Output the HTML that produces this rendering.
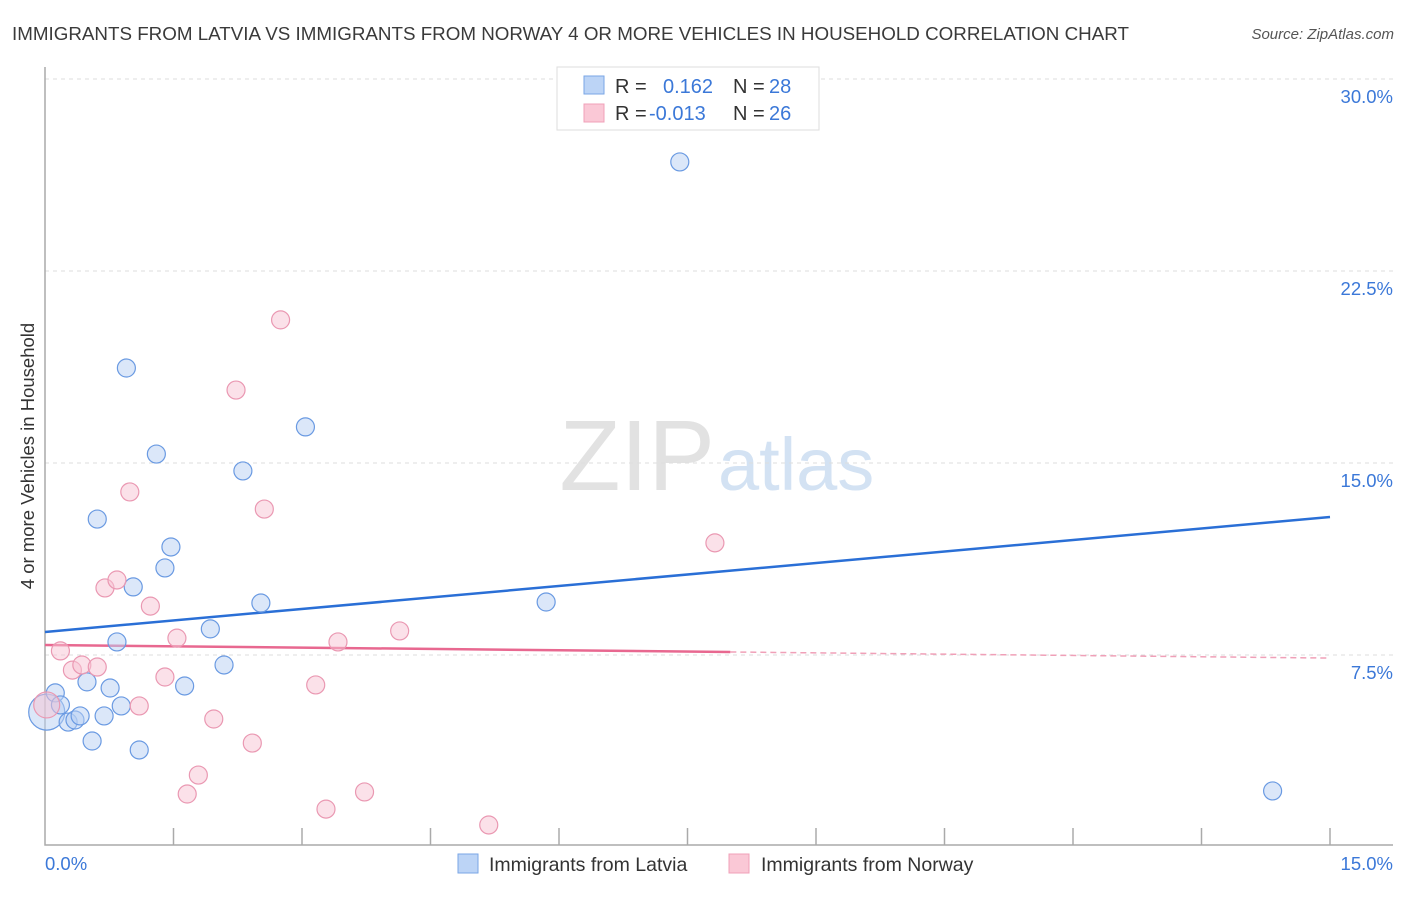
<!DOCTYPE html>
<html><head><meta charset="utf-8"><style>
body{margin:0;background:#fff;font-family:"Liberation Sans",sans-serif}
svg text{font-family:"Liberation Sans",sans-serif}
</style></head><body>
<svg width="1406" height="892" xmlns="http://www.w3.org/2000/svg" id="chart">
<text x="12" y="40" font-size="18.8" fill="#3a3a3a">IMMIGRANTS FROM LATVIA VS IMMIGRANTS FROM NORWAY 4 OR MORE VEHICLES IN HOUSEHOLD CORRELATION CHART</text>
<text x="1394" y="39" font-size="15" fill="#555" text-anchor="end" font-style="italic">Source: ZipAtlas.com</text>
<text x="715" y="490" font-size="100" fill="#e2e2e2" text-anchor="end" font-family="Liberation Serif">ZIP</text>
<text x="718" y="490" font-size="74" fill="#d3e2f3">atlas</text>
<g id="grid"></g>
<g id="axes"></g>
<g id="lines"></g>
<g id="pts"></g>
<text transform="translate(34,456) rotate(-90)" font-size="18.5" fill="#333" text-anchor="middle">4 or more Vehicles in Household</text>
<text x="45" y="870" font-size="18.5" fill="#3b78d8">0.0%</text>
<text x="1393" y="870" font-size="18.5" fill="#3b78d8" text-anchor="end">15.0%</text>
<g>
<rect x="557" y="67" width="262" height="63" fill="#fff" stroke="#ddd"/>
<rect x="584" y="76" width="20" height="18" fill="#bcd4f6" stroke="#7aa6e6"/>
<rect x="584" y="104" width="20" height="18" fill="#fac8d6" stroke="#f0a0b8"/>
<text x="615" y="93" font-size="20" fill="#333">R = </text><text x="663" y="93" font-size="20" fill="#3b78d8">0.162</text>
<text x="733" y="93" font-size="20" fill="#333">N = </text><text x="769" y="93" font-size="20" fill="#3b78d8">28</text>
<text x="615" y="120" font-size="20" fill="#333">R = </text><text x="649" y="120" font-size="20" fill="#3b78d8">-0.013</text>
<text x="733" y="120" font-size="20" fill="#333">N = </text><text x="769" y="120" font-size="20" fill="#3b78d8">26</text>
</g>
<g>
<rect x="458" y="854" width="20" height="19" fill="#bcd4f6" stroke="#7aa6e6"/>
<text x="489" y="871" font-size="19.5" fill="#333">Immigrants from Latvia</text>
<rect x="729" y="854" width="20" height="19" fill="#fac8d6" stroke="#f0a0b8"/>
<text x="761" y="871" font-size="19.5" fill="#333">Immigrants from Norway</text>
</g>
</svg>
<script>
const latviaX=[0.02,0.12,0.18,0.27,0.35,0.41,0.49,0.55,0.61,0.69,0.76,0.84,0.89,0.95,1.03,1.10,1.30,1.40,1.47,1.63,1.93,2.09,2.31,2.52,3.04,5.85,7.41,14.33];
const latviaY=[5.27,6.02,5.55,4.88,4.96,5.12,6.45,4.14,12.81,5.12,6.21,8.01,5.51,18.71,10.16,3.79,15.35,10.90,11.72,6.29,8.52,7.11,14.69,9.53,16.41,9.57,26.76,2.19];
const norwayX=[0.02,0.18,0.32,0.43,0.61,0.70,0.84,0.99,1.10,1.23,1.40,1.54,1.66,1.79,1.97,2.23,2.42,2.56,2.75,3.16,3.28,3.42,3.73,4.14,5.18,7.82];
const norwayY=[5.55,7.66,6.91,7.11,7.03,10.12,10.43,13.87,5.51,9.41,6.64,8.16,2.07,2.81,5.0,17.85,4.06,13.20,20.59,6.33,1.48,8.01,2.15,8.44,0.86,11.88];
const latviaTrend=[8.40,12.89];
const norwayTrend=[7.89,7.38];
const yTicks=[7.5,15,22.5,30];
const yTickLabels=["7.5%","15.0%","22.5%","30.0%"];
const NS="http://www.w3.org/2000/svg";
const sx=v=>45+v/15*1285, sy=v=>847-v/7.5*192;
function mk(t,a,p){const e=document.createElementNS(NS,t);for(const k in a)e.setAttribute(k,a[k]);document.getElementById(p).appendChild(e);return e;}
yTicks.forEach((t,i)=>{
 const l=mk('line',{x1:45,x2:1393,y1:sy(t),y2:sy(t),stroke:'#ddd','stroke-dasharray':'4,4'},'grid');
 
 
 const tx=mk('text',{x:1393,y:sy(t)+24,'font-size':18.5,fill:'#3b78d8','text-anchor':'end'},'grid');tx.textContent=yTickLabels[i];
 
 
});
const ax=mk('path',{d:'M45 67V845H1393',fill:'none',stroke:'#aaa','stroke-width':1.5},'axes');


for(let i=1;i<=10;i++){const t=mk('line',{x1:sx(i*1.5),x2:sx(i*1.5),y1:828,y2:845,stroke:'#aaa','stroke-width':1.5},'axes');
 
 }
const bl=mk('line',{x1:sx(0),y1:sy(latviaTrend[0]),x2:sx(15),y2:sy(latviaTrend[1]),stroke:'#2a6fd6','stroke-width':2.5},'lines');


const pm=v=>norwayTrend[0]+(norwayTrend[1]-norwayTrend[0])*v/15;
const pl=mk('line',{x1:sx(0),y1:sy(pm(0)),x2:sx(8),y2:sy(pm(8)),stroke:'#e86890','stroke-width':2.5},'lines');


const pd=mk('line',{x1:sx(8),y1:sy(pm(8)),x2:sx(15),y2:sy(pm(15)),stroke:'#f0a0b8','stroke-width':1.5,'stroke-dasharray':'6,4'},'lines');


function dots(X,Y,fill,stroke,name,bigR){X.forEach((x,i)=>{
 const c=mk('circle',{cx:sx(x),cy:sy(Y[i]),r:i===0?bigR:9,fill:fill,'fill-opacity':0.5,stroke:stroke,'stroke-width':1.2},'pts');
 
 });}
dots(latviaX,latviaY,'#b8d0f4','#6a9ae2','latvia-point',18);
dots(norwayX,norwayY,'#f8c4d4','#ea98b2','norway-point',13);
</script>
</body></html>
